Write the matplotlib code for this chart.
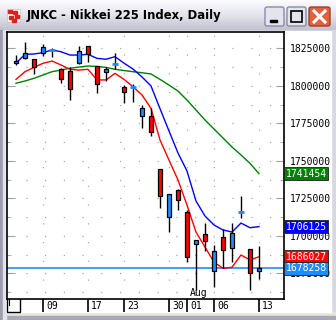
import numpy as np
import matplotlib
matplotlib.use("Agg")
import matplotlib.pyplot as plt
from matplotlib.patches import Rectangle, FancyBboxPatch

# Nikkei 225 daily candles, Jul 4 - Aug 13
dates = ['07-04', '07-05', '07-06', '07-09', '07-10', '07-11', '07-12', '07-13',
         '07-17', '07-18', '07-19', '07-20', '07-23', '07-24', '07-25', '07-26',
         '07-27', '07-30', '07-31', '08-01', '08-02', '08-03', '08-06', '08-07',
         '08-08', '08-09', '08-10', '08-13']
opens = [1815000, 1818300, 1817700, 1821700, 1823800, 1811000, 1809900, 1815000,
         1826500, 1813200, 1809000, 1814600, 1799000, 1799100, 1780100, 1779700,
         1744500, 1712700, 1730500, 1715700, 1694300, 1701200, 1676700, 1699400,
         1691700, 1715600, 1691000, 1676500]
highs = [1820500, 1829000, 1818000, 1827700, 1825200, 1811900, 1812500, 1826700,
         1826600, 1813300, 1812700, 1821700, 1800500, 1801200, 1787200, 1785400,
         1744600, 1728000, 1731000, 1717200, 1697300, 1708700, 1693900, 1704300,
         1708300, 1726500, 1691500, 1693400]
lows = [1813900, 1817700, 1807900, 1820100, 1819400, 1801900, 1790500, 1814300,
        1816100, 1795400, 1803400, 1811000, 1788300, 1789400, 1772100, 1766500,
        1718300, 1702700, 1717200, 1682700, 1663900, 1690100, 1666100, 1678300,
        1682700, 1711700, 1663900, 1671000]
closes = [1816500, 1821700, 1812700, 1825700, 1824000, 1804300, 1797700, 1823200,
          1821000, 1801200, 1811200, 1814800, 1795700, 1799300, 1785000, 1769000,
          1726700, 1727900, 1723900, 1685700, 1697200, 1696700, 1690100, 1690500,
          1701700, 1715800, 1675000, 1678258]

ma_red = [1804300, 1809400, 1812300, 1815000, 1816500, 1813900, 1811000, 1810500,
          1811000, 1803900, 1803900, 1808300, 1804300, 1799400, 1793900, 1785000,
          1763900, 1750500, 1737200, 1720500, 1702500, 1692500, 1682500, 1678300,
          1679000, 1687200, 1683900, 1686027]
ma_blue = [1815100, 1821000, 1821200, 1822100, 1823900, 1822700, 1820500, 1820500,
           1821000, 1818300, 1817700, 1819400, 1815100, 1811200, 1805900, 1799900,
           1784800, 1769900, 1755200, 1743200, 1723200, 1713200, 1707200, 1703900,
           1702500, 1708500, 1705400, 1706125]
ma_green = [1801700, 1803200, 1805000, 1807200, 1809400, 1810500, 1811700, 1812500,
            1813200, 1812900, 1812300, 1811000, 1810200, 1809400, 1808700, 1807900,
            1804300, 1800500, 1796500, 1790500, 1783900, 1777200, 1771200, 1765200,
            1759200, 1753900, 1748300, 1741454]

tick_idx = [3, 8, 12, 17, 19, 22, 27]
tick_lbl = ['09', '17', '23', '30', '01', '06', '13']
ylevels = [1825000, 1800000, 1775000, 1750000, 1725000, 1700000, 1675000]

UP = '#1E8CFF'
DOWN = '#FF0000'
MONO = 'DejaVu Sans Mono'

W, H = 336, 320
fig = plt.figure(figsize=(W / 100, H / 100), dpi=100)

# window frame (pixel coordinates)
bg = fig.add_axes([0, 0, 1, 1])
bg.set_xlim(0, W)
bg.set_ylim(H, 0)
bg.axis('off')
bg.add_patch(Rectangle((0, 0), W, H, color='#C6C6D2'))
grad = np.linspace(0, 1, 30)[:, None]
bg.imshow(grad, extent=(0, W, 30, 0), cmap=matplotlib.colors.LinearSegmentedColormap.from_list(
    't', ['#FCFCFE', '#E4E4EC', '#C2C2D0']), aspect='auto', zorder=1)
bg.add_patch(Rectangle((331, 30), 5, 290, color='#D8D8E0', zorder=2))
bg.add_patch(Rectangle((0, 312), W, 8, color='#E8E6DC', zorder=2))
bg.add_patch(Rectangle((0, 316), W, 4, color='#A8A8B8', zorder=2))
bg.add_patch(Rectangle((0, 30), 3, 290, color='#9C9CAC', zorder=2))
bg.add_patch(Rectangle((3, 30), 3, 290, color='#E0E0E8', zorder=2))
bg.add_patch(Rectangle((6, 31), 325, 281, color='white', zorder=2))
# icon
bg.add_patch(Rectangle((7, 9), 13, 13, color='white', ec='#C0C0C0', lw=0.5, zorder=3))
for (ix, iy) in [(8, 10), (13, 11), (9, 16), (15, 15), (12, 19)]:
    bg.add_patch(Rectangle((ix, iy), 4, 3, color='#E02020', zorder=4))
bg.text(27, 16, 'JNKC - Nikkei 225 Index, Daily', fontsize=8.4, fontweight='bold',
        va='center', ha='left', color='black', zorder=4)
# title buttons
for x0 in (265, 287):
    bg.add_patch(FancyBboxPatch((x0, 7), 19, 19, boxstyle='round,pad=0,rounding_size=2',
                                fc='#E4E4EE', ec='#8A8AA6', lw=1, zorder=4))
bg.add_patch(Rectangle((270, 20), 7, 2, color='black', zorder=5))
bg.add_patch(Rectangle((291, 11), 11, 11, fill=False, ec='black', lw=1.2, zorder=5))
bg.add_patch(FancyBboxPatch((309, 7), 21, 19, boxstyle='round,pad=0,rounding_size=2',
                            fc='#E2603C', ec='#A04030', lw=1, zorder=4))
bg.plot([314, 325], [11, 22], color='white', lw=2.2, zorder=5)
bg.plot([314, 325], [22, 11], color='white', lw=2.2, zorder=5)
# scroll box bottom-left
bg.add_patch(Rectangle((7, 293), 12.5, 19, fill=False, ec='black', lw=1, zorder=6))
bg.plot([9, 9], [295, 305], color='black', lw=0.8, zorder=6)

# chart
x0, x1, y0, y1 = 7, 284, 32, 299
ax = fig.add_axes([x0 / W, 1 - y1 / H, (x1 - x0) / W, (y1 - y0) / H])
ax.set_facecolor('white')
ax.set_zorder(5)
n = len(dates)
idx = np.arange(n)
ax.set_xlim(-1, 29.78)
ax.set_ylim(1657870, 1835870)

for lv in np.arange(1662500, 1835000, 12500):
    ax.axhline(lv, color='#A8A8A8', lw=0.9, ls=(0, (1, 14)), zorder=1)
for t in tick_idx:
    ax.axvline(t, color='#A8A8A8', lw=0.9, ls=(0, (1, 14)), zorder=1)

ax.axhline(closes[-1], color=UP, lw=1.2, zorder=2)

ax.plot(idx, ma_green, color='#008000', lw=1, zorder=3)
ax.plot(idx, ma_blue, color='#0000FF', lw=1, zorder=3)
ax.plot(idx, ma_red, color='#FF0000', lw=1, zorder=3)

ax.vlines(idx, lows, highs, color='black', lw=1, zorder=4)
for i in range(n):
    o, c = opens[i], closes[i]
    if abs(c - o) < 1000:
        ax.hlines((o + c) / 2, i - 0.28, i + 0.28, color=UP, lw=2, zorder=5)
    else:
        ax.bar(i, abs(c - o), bottom=min(o, c), width=0.55,
               color=UP if c > o else DOWN, edgecolor='black', lw=0.9, zorder=5)

for sp in ax.spines.values():
    sp.set_color('black')
    sp.set_linewidth(1.2)

ax.yaxis.tick_right()
ax.set_yticks(ylevels)
ax.set_yticklabels([str(v) for v in ylevels], fontsize=7, family=MONO)
ax.set_yticks(np.arange(1662500, 1835000, 12500), minor=True)
ax.tick_params(axis='y', which='major', direction='in', length=6, color='#A0A0A0',
               pad=4, left=True, labelleft=False)
ax.tick_params(axis='y', which='minor', direction='in', length=3, color='#A0A0A0',
               left=True)

ax.set_xticks(tick_idx)
ax.set_xticklabels([])
ax.tick_params(axis='x', direction='out', length=9.5, width=1.2, color='black')
xtr = ax.get_xaxis_transform()
for t, lb in zip(tick_idx, tick_lbl):
    ax.text(t + 0.35, -0.025, lb, transform=xtr, fontsize=7, family=MONO,
            ha='left', va='center', clip_on=False)
ax.text(19.3, 0.003, 'Aug', transform=xtr, fontsize=7, family=MONO,
        ha='left', va='bottom')

ytr = ax.get_yaxis_transform()
for val, fc in [(ma_green[-1], '#008000'), (ma_blue[-1], '#0000FF'),
                (ma_red[-1], '#FF0000'), (closes[-1], UP)]:
    ax.text(1.006, val, str(val), transform=ytr, fontsize=7, family=MONO,
            color='white', ha='left', va='center', clip_on=False, zorder=10,
            bbox=dict(boxstyle='square,pad=0.15', fc=fc, ec='#202020', lw=0.6))

fig.savefig('out.png', dpi=100)
